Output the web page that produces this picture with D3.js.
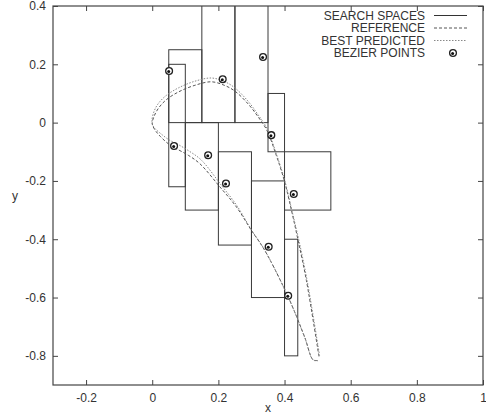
<!DOCTYPE html>
<html>
<head>
<meta charset="utf-8">
<script src="https://cdn.jsdelivr.net/npm/d3@7"></script>
<style>
  body { margin: 0; background: #fff; }
  svg text { font-family: "Liberation Sans", Arial, sans-serif; fill: #333; }
</style>
</head>
<body>
<div id="chart-area"></div>
<script>
// search space boxes around each Bezier control point: [x0, x1, y0, y1]
const boxX0 = [0.05, 0.15, 0.25, 0.35, 0.40, 0.40, 0.30, 0.20, 0.10, 0.05];
const boxX1 = [0.15, 0.25, 0.35, 0.40, 0.54, 0.44, 0.40, 0.30, 0.20, 0.10];
const boxY0 = [0.00, 0.00, 0.00, -0.10, -0.30, -0.80, -0.60, -0.42, -0.30, -0.22];
const boxY1 = [0.25, 0.50, 0.50, 0.10, -0.10, -0.40, -0.20, -0.10, 0.00, 0.20];

// Bezier control points
const bezX = [0.051, 0.213, 0.335, 0.360, 0.428, 0.411, 0.352, 0.223, 0.169, 0.066];
const bezY = [0.177, 0.149, 0.225, -0.043, -0.245, -0.594, -0.426, -0.209, -0.112, -0.080];

// reference airfoil (dashed)
const refX = [0.504, 0.466, 0.441, 0.421, 0.399, 0.375, 0.346, 0.320, 0.290, 0.250, 0.220, 0.179, 0.129, 0.079, 0.042, 0.018, 0.005, 0.000,
              0.002, 0.010, 0.025, 0.048, 0.069, 0.109, 0.144, 0.205, 0.255, 0.300, 0.340, 0.411, 0.461, 0.486, 0.500];
const refY = [-0.802, -0.541, -0.404, -0.301, -0.198, -0.112, -0.025, 0.020, 0.064, 0.108, 0.127, 0.140, 0.128, 0.105, 0.078, 0.048, 0.020, 0.000,
              -0.012, -0.028, -0.048, -0.072, -0.087, -0.112, -0.141, -0.221, -0.290, -0.370, -0.438, -0.598, -0.736, -0.813, -0.816];

// best predicted airfoil (dotted)
const predX = [0.506, 0.468, 0.443, 0.422, 0.400, 0.376, 0.347, 0.320, 0.290, 0.250, 0.220, 0.179, 0.129, 0.079, 0.040, 0.015, 0.003, -0.001,
               0.001, 0.008, 0.026, 0.052, 0.075, 0.112, 0.148, 0.207, 0.256, 0.300, 0.340, 0.411, 0.461, 0.486, 0.500];
const predY = [-0.800, -0.540, -0.402, -0.300, -0.196, -0.110, -0.020, 0.027, 0.073, 0.119, 0.140, 0.153, 0.142, 0.119, 0.091, 0.060, 0.030, 0.005,
               -0.008, -0.020, -0.038, -0.060, -0.073, -0.098, -0.128, -0.212, -0.285, -0.368, -0.437, -0.598, -0.737, -0.814, -0.817];

const xTicks = [-0.2, 0, 0.2, 0.4, 0.6, 0.8, 1];
const yTicks = [0.4, 0.2, 0, -0.2, -0.4, -0.6, -0.8];
const legendLabels = ['SEARCH SPACES', 'REFERENCE', 'BEST PREDICTED', 'BEZIER POINTS'];

const margin = { top: 6, right: 3, bottom: 32, left: 53 };
const width = 486 - margin.left - margin.right;
const height = 417 - margin.top - margin.bottom;

const svg = d3.select('#chart-area')
  .append('svg')
    .attr('width', 486)
    .attr('height', 417);

const g = svg.append('g')
  .attr('transform', 'translate(' + margin.left + ',' + margin.top + ')');

const x = d3.scaleLinear().domain([-0.3, 1]).range([0, width]);
const y = d3.scaleLinear().domain([-0.9, 0.4]).range([height, 0]);

g.append('clipPath').attr('id', 'clip')
  .append('rect').attr('width', width).attr('height', height);

// gnuplot-style labels with a plain hyphen
const fmt = d => d === 0 ? '0' : d === 1 ? '1' : (d < 0 ? '-' : '') + Math.abs(d).toFixed(1);

// axes, ticks pointing inward
const xAxis = g.append('g')
  .attr('transform', 'translate(0,' + height + ')')
  .call(d3.axisBottom(x).tickValues(xTicks).tickFormat(fmt).tickSizeInner(-5).tickSizeOuter(0).tickPadding(8));
const xAxisTop = g.append('g')
  .call(d3.axisTop(x).tickValues(xTicks).tickFormat('').tickSizeInner(-5).tickSizeOuter(0));
const yAxis = g.append('g')
  .call(d3.axisLeft(y).tickValues(yTicks).tickFormat(fmt).tickSizeInner(-5).tickSizeOuter(0).tickPadding(7));
const yAxisRight = g.append('g')
  .attr('transform', 'translate(' + width + ',0)')
  .call(d3.axisRight(y).tickValues(yTicks).tickFormat('').tickSizeInner(-5).tickSizeOuter(0));

[xAxis, xAxisTop, yAxis, yAxisRight].forEach(a => {
  a.select('.domain').remove();
  a.selectAll('line').attr('stroke', '#444');
  a.selectAll('text').attr('font-size', 12).attr('fill', '#333').style('font-family', '"Liberation Sans", Arial, sans-serif');
});

const plot = g.append('g').attr('clip-path', 'url(#clip)');

// search spaces
plot.selectAll('rect.box')
  .data(boxX0.map((d, i) => i))
  .enter()
  .append('rect')
    .attr('class', 'box')
    .attr('x', i => x(boxX0[i]))
    .attr('y', i => y(boxY1[i]))
    .attr('width', i => x(boxX1[i]) - x(boxX0[i]))
    .attr('height', i => y(boxY0[i]) - y(boxY1[i]))
    .attr('fill', 'none')
    .attr('stroke', '#3a3a3a')
    .attr('stroke-width', 1);

const line = d3.line().curve(d3.curveCatmullRom.alpha(0.5));

plot.append('path')
  .datum(refX.map((d, i) => [x(d), y(refY[i])]))
  .attr('d', line)
  .attr('fill', 'none')
  .attr('stroke', '#555')
  .attr('stroke-width', 1)
  .attr('stroke-dasharray', '3,2');

plot.append('path')
  .datum(predX.map((d, i) => [x(d), y(predY[i])]))
  .attr('d', line)
  .attr('fill', 'none')
  .attr('stroke', '#888')
  .attr('stroke-width', 1)
  .attr('stroke-dasharray', '1.5,1.5');

// Bezier points
const pts = plot.selectAll('g.pt')
  .data(bezX.map((d, i) => i))
  .enter()
  .append('g')
    .attr('class', 'pt')
    .attr('transform', i => 'translate(' + x(bezX[i]) + ',' + y(bezY[i]) + ')');
pts.append('circle').attr('r', 3.4).attr('fill', '#fff').attr('stroke', '#222').attr('stroke-width', 1.3);
pts.append('circle').attr('r', 1.5).attr('cx', -0.4).attr('cy', 0.5).attr('fill', '#111');

// frame
g.append('rect')
  .attr('width', width)
  .attr('height', height)
  .attr('fill', 'none')
  .attr('stroke', '#444')
  .attr('stroke-width', 1.2);

// axis titles
svg.append('text')
  .attr('x', margin.left + width / 2)
  .attr('y', 412)
  .attr('text-anchor', 'middle')
  .attr('font-size', 12)
  .text('x');
svg.append('text')
  .attr('x', 15)
  .attr('y', margin.top + height / 2 + 4)
  .attr('text-anchor', 'middle')
  .attr('font-size', 12)
  .text('y');

// legend
const legend = svg.append('g');
const legendRowY = d3.scaleLinear().domain([0, 3]).range([15.5, 53]);
legend.selectAll('text')
  .data(legendLabels)
  .enter()
  .append('text')
    .attr('x', 425)
    .attr('y', (d, i) => legendRowY(i) + 4)
    .attr('text-anchor', 'end')
    .attr('font-size', 12)
    .text(d => d);

const styles = [
  { stroke: '#333', dash: null },
  { stroke: '#555', dash: '3,2' },
  { stroke: '#888', dash: '1.5,1.5' }
];
styles.forEach((s, i) => {
  legend.append('line')
    .attr('x1', 434).attr('x2', 467)
    .attr('y1', legendRowY(i)).attr('y2', legendRowY(i))
    .attr('stroke', s.stroke)
    .attr('stroke-width', 1)
    .attr('stroke-dasharray', s.dash);
});
const lp = legend.append('g').attr('transform', 'translate(453,' + legendRowY(3) + ')');
lp.append('circle').attr('r', 3.4).attr('fill', '#fff').attr('stroke', '#222').attr('stroke-width', 1.3);
lp.append('circle').attr('r', 1.5).attr('cx', -0.4).attr('cy', 0.5).attr('fill', '#111');
</script>
</body>
</html>
